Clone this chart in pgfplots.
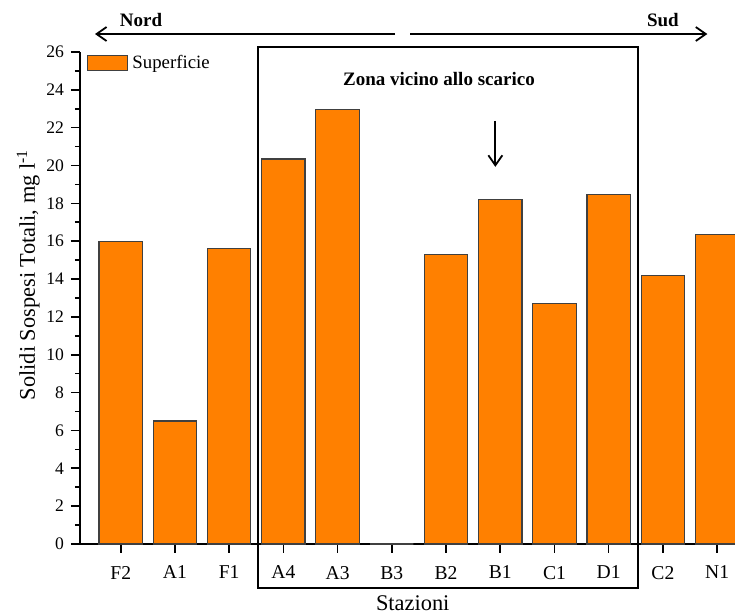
\documentclass[border=0pt]{standalone}
\usepackage{pgfplots}
\pgfplotsset{compat=1.18}
\usepackage{fontspec}
\setmainfont{Liberation Serif}
\usetikzlibrary{arrows.meta}
\definecolor{barorange}{HTML}{FF8000}
\definecolor{baredge}{HTML}{404040}
\begin{document}
\begin{tikzpicture}
\begin{axis}[name=ax, scale only axis, width=327.5pt, height=246pt,
  xmin=-0.751, xmax=11.33, ymin=0, ymax=26,
  axis x line=bottom, axis y line=left,
  axis line style={-, line width=1pt},
  xtick={0,...,11},
  xticklabels={F2,A1,F1,A4,A3,B3,B2,B1,C1,D1,C2,N1},
  ytick={0,2,...,26}, minor ytick={1,3,...,25},
  tick align=outside, major tick length=4.5pt, minor tick length=2.5pt,
  tick style={line width=0.8pt, black},
  x tick label style={font=\fontsize{9.8}{11}\selectfont, yshift=-3pt},
  y tick label style={font=\fontsize{8.8}{10}\selectfont},
  /pgf/number format/assume math mode=true,
  xlabel={Stazioni},
  ylabel={Solidi Sospesi Totali, mg l\textsuperscript{-1}},
  label style={font=\fontsize{11.2}{13}\selectfont},
  xlabel style={at={(axis description cs:0.508,0)}, anchor=center, yshift=-29.5pt},
  ylabel style={at={(axis description cs:-0.079,0.547)}, anchor=center, rotate=0},
  clip=false,
  ybar, bar width=0.8,
  legend style={draw=none, fill=none, at={(axis cs:-0.625,25.41)}, anchor=west,
    font=\fontsize{9.4}{11}\selectfont, inner sep=0pt, legend cell align=left},
  legend image code/.code={\draw[#1] (0pt,-3.8pt) rectangle (20pt,3.8pt);},
]
\addplot[fill=barorange, draw=baredge, line width=0.6pt] coordinates {
  (0,16.0) (1,6.5) (2,15.6) (3,20.35) (4,22.95) (5,0) (6,15.3) (7,18.2)
  (8,12.7) (9,18.45) (10,14.2) (11,16.35)};
\addlegendentry{Superficie}
\draw[line width=1pt] (axis cs:2.533,-2.33) rectangle (axis cs:9.545,26.27);
\draw[line width=0.9pt, -{Straight Barb[length=5pt,width=7pt]}] (axis cs:5.06,26.95) -- (axis cs:-0.474,26.95);
\draw[line width=0.9pt, -{Straight Barb[length=5pt,width=7pt]}] (axis cs:5.34,26.95) -- (axis cs:10.82,26.95);
\node[font=\bfseries\fontsize{9.5}{11}\selectfont] at (axis cs:0.375,27.7) {Nord};
\node[font=\bfseries\fontsize{9.5}{11}\selectfont] at (axis cs:10.0,27.7) {Sud};
\node[font=\bfseries\fontsize{9.5}{11}\selectfont] at (axis cs:5.87,24.58) {Zona vicino allo scarico};
\draw[line width=0.9pt, -{Straight Barb[length=5pt,width=7pt]}] (axis cs:6.91,22.36) -- (axis cs:6.91,19.93);
\end{axis}
\pgfresetboundingbox
\path[use as bounding box] ([xshift=-40pt,yshift=-35pt]ax.south west) rectangle ([yshift=26pt]ax.north east);
\end{tikzpicture}
\end{document}
